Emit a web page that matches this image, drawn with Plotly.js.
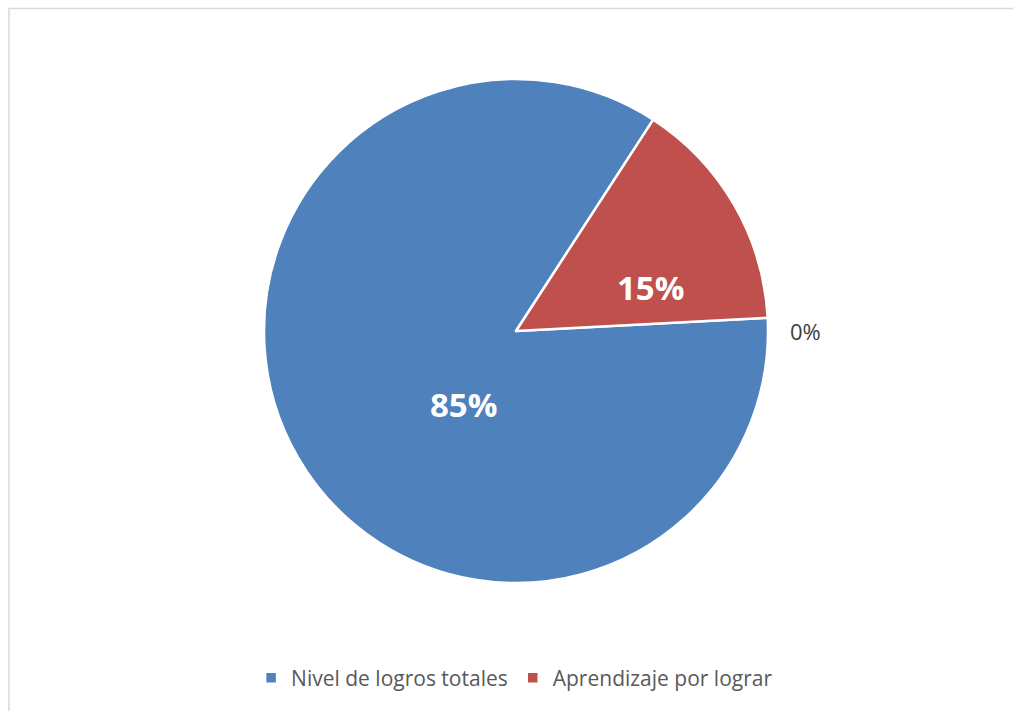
<!DOCTYPE html>
<html>
<head>
<meta charset="utf-8">
<script src="https://cdn.plot.ly/plotly-3.0.1.min.js"></script>
<style>html,body{margin:0;padding:0;background:#fff;}#chart{width:1013px;height:711px;}</style>
</head>
<body>
<div id="chart"></div>
<script>
const categories = ["Nivel de logros totales", "Aprendizaje por lograr"];
const values = [85, 15];
const sliceColors = ["#4F81BD", "#C0504D"];
const extraLabel = "0%";

const total = values.reduce((a, b) => a + b, 0);
const pctText = values.map(v => Math.round(100 * v / total) + "%");
// label anchor spots (paper fractions), Excel-like placement
const labelSpots = [[463/1013, 1-404/711], [650/1013, 1-288/711]];

const trace = {
  type: "pie",
  labels: categories,
  values: values,
  sort: false,
  direction: "clockwise",
  rotation: 87,
  marker: {colors: sliceColors, line: {color: "#ffffff", width: 2.5}},
  textinfo: "none",
  hoverinfo: "label+percent",
  domain: {x: [264/1013, 768/1013], y: [1-583/711, 1-79/711]}
};

const fontFam = "Open Sans, Noto Sans, sans-serif";
const annotations = pctText.map((t, i) => ({
  text: t, xref: "paper", yref: "paper", x: labelSpots[i][0], y: labelSpots[i][1],
  xanchor: "center", yanchor: "middle",
  showarrow: false, font: {family: fontFam, size: 33, color: "#ffffff", weight: "bold"}
}));
annotations.push({text: extraLabel, xref: "paper", yref: "paper", x: 805/1013, y: 1-331/711,
  xanchor: "center", yanchor: "middle",
  showarrow: false, font: {family: fontFam, size: 22, color: "#404040"}});

const layout = {
  width: 1013, height: 711,
  margin: {l: 0, r: 0, t: 0, b: 0},
  paper_bgcolor: "#ffffff",
  showlegend: true,
  legend: {orientation: "h", x: 0.508, xanchor: "center", y: 1-678/711, yanchor: "middle",
    font: {family: fontFam, size: 21, color: "#595959"},
    itemwidth: 30, traceorder: "normal"},
  annotations: annotations,
  shapes: [{type: "rect", xref: "paper", yref: "paper", x0: 9/1013, x1: 1.05, y0: -0.05, y1: 1-8.5/711,
    line: {color: "#d9d9d9", width: 1.5}, fillcolor: "rgba(0,0,0,0)"}]
};

Plotly.newPlot("chart", [trace], layout, {displayModeBar: false, staticPlot: true});
</script>
</body>
</html>
